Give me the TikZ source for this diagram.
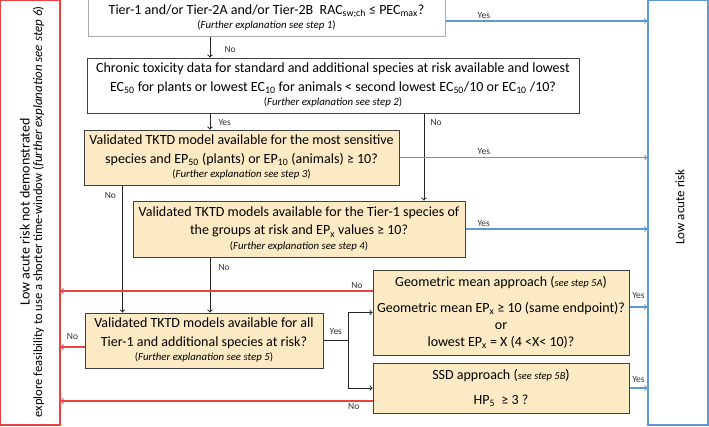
\documentclass[tikz,border=0pt]{standalone}
\usepackage{fontspec}
\setmainfont{Carlito}
\definecolor{boxtan}{RGB}{252,234,196}
\definecolor{boxedge}{RGB}{64,64,64}
\definecolor{greyedge}{RGB}{170,170,170}
\definecolor{nored}{RGB}{236,66,66}
\definecolor{yesblue}{RGB}{91,155,213}
\newcommand{\expl}[1]{{\fontsize{10.8}{12}\selectfont(\textit{#1})}}
\newcommand{\stepnote}[1]{{\fontsize{10.5}{12}\selectfont\textit{#1}}}
\begin{document}
\begin{tikzpicture}[x=1pt, y=-1pt,
    question/.style={draw=boxedge, fill=boxtan, line width=1pt, align=center, inner sep=0pt, font=\fontsize{14}{18.5}\selectfont},
    decision/.style={question, fill=white},
    answer/.style={font=\fontsize{9.5}{11}\selectfont, text=black!80, inner sep=2pt},
    outcome/.style={line width=1.1pt, inner sep=0pt},
    flow/.style={->, line width=1pt, black!85},
    yesflow/.style={->, line width=1.1pt, yesblue},
    noflow/.style={->, line width=1.1pt, nored}]
    \useasboundingbox (0,0) rectangle (709,426);

    % Outcome boxes (left and right)
    \node[outcome, draw=nored, minimum width=59.5pt, minimum height=424.5pt] (notshown) at (30.25,212.75) {};
    \node[rotate=90, align=center, font=\fontsize{12.6}{12.5}\selectfont] (notshowntext) at (32,212) {{\fontsize{14}{12.5}\selectfont Low acute risk not demonstrated}\\ explore feasibility to use a shorter time-window ({\fontsize{13}{12.5}\selectfont\textit{further explanation see step 6}})};
    \node[outcome, draw=yesblue, minimum width=60pt, minimum height=424.5pt] (lowrisk) at (678,212.75) {};
    \node[rotate=90, font=\fontsize{13}{15}\selectfont] (lowrisktext) at (680,207) {Low acute risk};

    % Decision boxes
    \node[decision, draw=greyedge, minimum width=357pt, minimum height=37pt] (racpec) at (266.5,17.5) {Tier-1 and/or Tier-2A and/or Tier-2B\ \ RAC\textsubscript{sw;ch} ≤ PEC\textsubscript{max}?\\[-4pt] \expl{Further explanation see step 1}};
    \node[decision, minimum width=492pt, minimum height=55pt] (chronic) at (333,85.5) {Chronic toxicity data for standard and additional species at risk available and lowest\\ EC\textsubscript{50} for plants or lowest EC\textsubscript{10} for animals < second lowest EC\textsubscript{50}/10 or EC\textsubscript{10} /10?\\[-4pt] \expl{Further explanation see step 2}};
    \node[question, minimum width=315pt, minimum height=55pt] (tktdsens) at (241.5,157.5) {Validated TKTD model available for the most sensitive\\ species and EP\textsubscript{50} (plants) or EP\textsubscript{10} (animals) ≥ 10?\\[-4pt] \expl{Further explanation see step 3}};
    \node[question, minimum width=332pt, minimum height=56pt] (tktdtier) at (299,229) {Validated TKTD models available for the Tier-1 species of\\ the groups at risk and EP\textsubscript{x} values ≥ 10?\\[-4pt] \expl{Further explanation see step 4}};
    \node[question, minimum width=238pt, minimum height=55pt] (tktdall) at (204,340.5) {Validated TKTD models available for all\\ Tier-1 and additional species at risk?\\[-4pt] \expl{Further explanation see step 5}};
    \node[question, minimum width=256pt, minimum height=85pt] (geomean) at (501,312.5) {Geometric mean approach (\stepnote{see step 5A})\\[7pt] Geometric mean EP\textsubscript{x} ≥ 10 (same endpoint)?\\[-1.5pt] or\\[-1.5pt] lowest EP\textsubscript{x} = X (4 <X< 10)?};
    \node[question, minimum width=256pt, minimum height=50pt] (ssd) at (501,388) {SSD approach (\stepnote{see step 5B})\\[6pt] HP\textsubscript{5}\ \ ≥ 3 ?};

    % Columns of the vertical connectors
    \coordinate (midcol) at (210,0);
    \coordinate (rightcol) at (424,0);
    \coordinate (leftcol) at (122.5,0);
    \coordinate (forkcol) at (348,0);

    % Downward flow
    \draw[flow] (racpec.south -| midcol) -- (chronic.north -| midcol) node[answer, pos=0.6, right=12pt] (noA) {No};
    \draw[flow] (chronic.south -| midcol) -- (tktdsens.north -| midcol) node[answer, pos=0.55, right=6pt] (yesB) {Yes};
    \draw[flow] (chronic.south -| rightcol) -- (tktdtier.north -| rightcol) node[answer, pos=0.1, right=4pt] (noB) {No};
    \draw[flow] (tktdsens.south -| leftcol) -- (tktdall.north -| leftcol) node[answer, pos=0.08, left=4pt] (noC) {No};
    \draw[flow] (tktdtier.south -| midcol) -- (tktdall.north -| midcol) node[answer, pos=0.19, right=6pt] (noD) {No};

    % Yes branch to the two approaches
    \draw[line width=1pt, black!85] (tktdall.east) -- node[answer, above=3pt] (yesE) {Yes} (tktdall.east -| forkcol) coordinate (fork);
    \draw[flow] (fork) |- (geomean.west);
    \draw[flow] (fork) |- (ssd.west);

    % Low acute risk
    \draw[yesflow] ([yshift=-3.5pt]racpec.east) -- ([yshift=-3.5pt]racpec.east -| lowrisk.west) node[answer, pos=0.19, above] (yesA) {Yes};
    \draw[yesflow] (tktdsens.east) -- (tktdsens.east -| lowrisk.west) node[answer, pos=0.34, above] (yesC) {Yes};
    \draw[yesflow] (tktdtier.east) -- (tktdtier.east -| lowrisk.west) node[answer, pos=0.1, above] (yesD) {Yes};
    \draw[yesflow] ([yshift=5.5pt]geomean.east) -- ([yshift=5.5pt]geomean.east -| lowrisk.west) node[answer, midway, above=6pt] (yesF) {Yes};
    \draw[yesflow] (ssd.east) -- (ssd.east -| lowrisk.west) node[answer, midway, above=3pt] (yesG) {Yes};

    % Low acute risk not demonstrated
    \draw[noflow] ([yshift=21.5pt]geomean.west) -- ([yshift=21.5pt]geomean.west -| notshown.east) node[answer, pos=0.05, above] (noE) {No};
    \draw[noflow] ([yshift=-6.5pt]tktdall.west) -- ([yshift=-6.5pt]tktdall.west -| notshown.east) node[answer, midway, above=5pt] (noF) {No};
    \draw[noflow] ([yshift=-13pt]ssd.west) -- ([yshift=-13pt]ssd.west -| notshown.east) node[answer, pos=0.06, below] (noG) {No};
\end{tikzpicture}
\end{document}
